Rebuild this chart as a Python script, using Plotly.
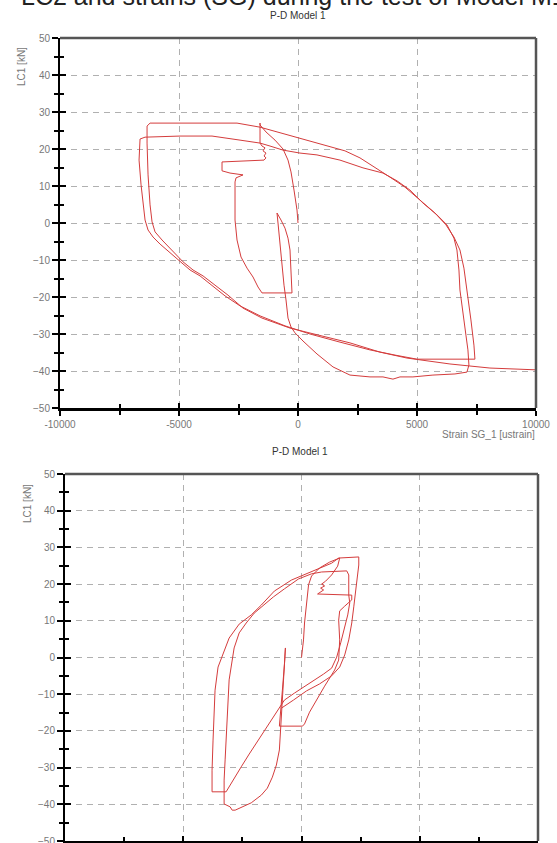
import plotly.graph_objects as go

# ---------------- data ----------------
top_strain = [0, -42, -168, -294, -420, -630, -966, -1344, -1596,
              -1596, -1596, -1512, -1386, -1470, -1344, -1428, -1344, -1428,
              -3192, -3192, -2856, -2310, -2604, -2646, -2646, -2562, -2394, -2142, -1890, -1680, -1512,
              -252, -294, -336, -420, -546, -714, -882,
              -840, -756, -672, -588, -504, -420, -294, -126, 210, 798, 1470, 2184, 3024, 3570, 3990,
              4284, 4830, 5670, 6594, 7098, 7182, 7140, 7056, 6930, 6804, 6762, 6678, 6552, 6258, 5838,
              5250, 4704, 4158, 3570, 2730, 1764, 798, 84, -630, -1176, -1596, -2436, -3612, -4956,
              -6426, -6636, -6678, -6594, -6510, -6426, -6300, -6090, -5796, -5376, -4956, -4536, -4116,
              -3612, -3066, -2436, -1596, -546, 504, 1764, 3024, 4074, 4998, 7434,
              7392, 7266, 7140, 6972, 6804, 6552, 6216, 5754, 5124, 4494, 3864, 3234, 2604, 1974, 924,
              84, -630, -1176, -1596, -2562, -4956, -6216, -6342, -6342, -6300, -6216, -6132, -6006,
              -5712, -5292, -4830, -4410, -3990, -3486, -2940, -2310, -1512, -336, 924, 2184, 3444,
              4578, 6384, 8064, 10038, 11004]
top_load = [0, 3.5, 8.9, 13.8, 17.0, 20.0, 22.4, 24.6, 26.5,
            27.0, 21.6, 20.8, 20.3, 19.5, 18.9, 18.1, 17.6, 17.0,
            16.5, 14.1, 13.5, 13.0, 12.2, 11.1, 0.8, -4.6, -9.2, -12.2, -14.6, -17.3, -18.9,
            -18.9, -12.7, -7.3, -4.1, -1.4, 0.8, 2.7,
            0, -5.9, -11.9, -16.8, -20.8, -25.7, -28.1, -29.7, -31.9, -35.4, -38.9, -41.1, -41.6, -41.6, -42.2,
            -41.6, -41.6, -41.1, -40.8, -40.3, -38.4, -34.3, -30.3, -23.5, -18.1, -12.7, -7.3, -4.1, -0.5, 2.2,
            5.4, 8.9, 11.4, 13.5, 14.9, 17.0, 18.4, 18.9, 19.7, 20.8, 21.6, 22.4, 23.5, 23.5,
            23.2, 22.7, 17.0, 10.3, 4.9, 0.8, -1.9, -3.8, -5.7, -8.1, -10.5, -12.7, -14.3,
            -16.8, -19.7, -22.4, -25.1, -27.8, -30.0, -32.2, -34.3, -35.7, -36.8, -36.8,
            -33.0, -26.2, -19.5, -12.2, -7.3, -3.8, -0.5, 2.7, 6.2, 9.7, 12.4, 14.9, 17.6, 19.5, 21.4,
            23.0, 24.1, 25.1, 25.9, 27.0, 27.0, 27.0, 26.2, 21.6, 13.0, 4.9, 0.3, -2.4,
            -4.6, -7.3, -10.5, -12.7, -14.3, -16.8, -19.5, -23.0, -25.7, -28.4, -30.5, -32.4, -34.9,
            -36.5, -38.1, -39.2, -39.7, -39.7]

bot_strain = [0, 85, 128, 212, 298, 425, 765, 1190, 1615,
              1530, 1275, 1020, 850, 978, 808, 935, 765, 680,
              2125, 2125, 1828, 1615, 1572, 1615, 1572, 1402, 978, 680, 340, 128, 42,
              -935, -892, -808, -722, -680,
              -722, -808, -850, -892, -935, -1062, -1232, -1445, -1700, -2125, -2465, -2805, -2932, -3018, -3272,
              -3272, -3230, -3188, -3145, -3102, -3060, -2975, -2848, -2635, -2338, -1998, -1615, -1190, -722,
              -128, 425, 850, 1912, 1998, 1998, 2040,
              1955, 1828, 1658, 1488, 1275, 935, 552, 128, -298, -722, -1062, -1445, -1828, -2210, -2550,
              -2848, -3188, -3782,
              -3782, -3740, -3698, -3655, -3528, -3315, -3060, -2635, -2125, -1700, -1148, -425, 212, 638,
              1275, 1572, 2422,
              2422, 2380, 2295, 2210, 2125, 1998, 1828, 1615, 1275, 765, 212, -340, -850]
bot_load = [0, 4.8, 9.4, 15.7, 19.8, 22.2, 24.4, 26.0, 27.1,
            24.9, 22.5, 20.8, 20.0, 19.5, 18.9, 18.4, 17.8, 17.3,
            17.0, 15.7, 14.0, 12.7, 10.2, 4.8, -0.7, -3.4, -7.8, -11.0, -14.9, -18.1, -18.7,
            -18.7, -14.3, -8.9, -2.0, 2.6,
            -2.9, -8.9, -14.3, -19.8, -25.2, -29.3, -32.6, -35.6, -37.5, -39.6, -40.7, -41.6, -41.6, -40.7, -39.9,
            -33.4, -27.9, -22.5, -17.0, -11.6, -6.1, -2.6, 2.6, 6.7, 9.4, 12.1, 14.3, 16.5, 18.7,
            21.4, 22.8, 23.3, 23.6, 22.5, 17.0, 14.9,
            11.6, 8.0, 4.0, 0.1, -2.9, -4.5, -6.1, -7.8, -9.7, -11.6, -14.9, -18.7, -22.5, -26.3, -29.8,
            -32.8, -36.6, -36.6,
            -30.7, -22.5, -14.3, -8.9, -2.6, 1.2, 5.3, 9.1, 11.6, 14.3, 18.1, 21.1, 22.8, 24.1,
            25.7, 27.1, 27.4,
            25.2, 22.5, 18.4, 13.8, 9.4, 4.8, 0.7, -2.6, -5.0, -7.2, -9.1, -11.6, -13.8]

x_ticks = [-10000, -5000, 0, 5000, 10000]
x_ticktext = ["-10000", "-5000", "0", "5000", "10000"]
y_ticks = [-50, -40, -30, -20, -10, 0, 10, 20, 30, 40, 50]

chart_title = "P-D Model 1"
y_title = "LC1 [kN]"
x_title = "Strain SG_1 [ustrain]"
page_heading = "LC2 and strains (SG) during the test of Model M1"

# ---------------- figure ----------------
W, H = 557, 843
RED = "#d43c3c"
FONT = "Liberation Sans, Arial, sans-serif"
TICKC = "#777777"

fig = go.Figure()
fig.add_trace(go.Scatter(x=top_strain, y=top_load, mode="lines",
                         line=dict(color=RED, width=1), xaxis="x", yaxis="y",
                         hoverinfo="skip", showlegend=False))
fig.add_trace(go.Scatter(x=bot_strain, y=bot_load, mode="lines",
                         line=dict(color=RED, width=1), xaxis="x2", yaxis="y2",
                         hoverinfo="skip", showlegend=False))
# invisible copies on overlay axes (used only for the inward half of crossing ticks)
fig.add_trace(go.Scatter(x=top_strain, y=top_load, mode="lines", opacity=0,
                         xaxis="x3", yaxis="y3", hoverinfo="skip", showlegend=False))
fig.add_trace(go.Scatter(x=bot_strain, y=bot_load, mode="lines", opacity=0,
                         xaxis="x4", yaxis="y4", hoverinfo="skip", showlegend=False))

top_xd = [60 / W, 536 / W]
top_yd = [1 - 408 / H, 1 - 38 / H]
bot_xd = [65 / W, 538 / W]
bot_yd = [1 - 841 / H, 1 - 474 / H]


def xax(domain, anchor, show_labels=True, ticks="outside", grid=True, line=True, overlay=None):
    d = dict(range=[-10000, 10000], tickmode="array", tickvals=x_ticks, ticktext=x_ticktext,
             ticks=ticks, ticklen=5, tickwidth=1.5, tickcolor="black",
             minor=dict(dtick=2500, tick0=0, ticks=ticks, ticklen=4, tickwidth=1.5, tickcolor="black",
                        showgrid=False),
             showticklabels=show_labels, tickfont=dict(family=FONT, size=10, color=TICKC),
             ticklabeloverflow="allow",
             showgrid=grid, gridcolor="#b0b0b0", gridwidth=1, griddash="6px,5px",
             zeroline=False, showline=line, linecolor="black", linewidth=2.5,
             anchor=anchor, automargin=False, fixedrange=True)
    if overlay:
        d["overlaying"] = overlay
    else:
        d["domain"] = domain
    return d


def yax(domain, anchor, show_labels=True, ticks="outside", grid=True, line=True, overlay=None):
    d = dict(range=[-50, 50], tickmode="array", tickvals=y_ticks,
             ticks=ticks, ticklen=6, tickwidth=1.5, tickcolor="black",
             minor=dict(dtick=5, tick0=0, ticks=ticks, ticklen=4, tickwidth=1.5, tickcolor="black",
                        showgrid=False),
             showticklabels=show_labels, tickfont=dict(family=FONT, size=10, color=TICKC),
             ticklabeloverflow="allow",
             showgrid=grid, gridcolor="#b0b0b0", gridwidth=1, griddash="6px,5px",
             zeroline=False, showline=line, linecolor="black", linewidth=2,
             anchor=anchor, automargin=False, fixedrange=True)
    if overlay:
        d["overlaying"] = overlay
    else:
        d["domain"] = domain
    return d


fig.update_layout(
    width=W, height=H, margin=dict(l=0, r=0, t=0, b=0),
    paper_bgcolor="white", plot_bgcolor="white", showlegend=False,
    xaxis=xax(top_xd, "y"), yaxis=yax(top_yd, "x"),
    xaxis2=xax(bot_xd, "y2"), yaxis2=yax(bot_yd, "x2"),
    xaxis3=xax(None, "y3", show_labels=False, ticks="inside", grid=False, line=False, overlay="x"),
    yaxis3=yax(None, "x3", show_labels=False, ticks="inside", grid=False, line=False, overlay="y"),
    xaxis4=xax(None, "y4", show_labels=False, ticks="inside", grid=False, line=False, overlay="x2"),
    yaxis4=yax(None, "x4", show_labels=False, ticks="inside", grid=False, line=False, overlay="y2"),
)

# dark grey frame on top and right sides
for xr, yr in (("x", "y"), ("x2", "y2")):
    fig.add_shape(type="line", xref=f"{xr} domain", yref=f"{yr} domain", x0=0, x1=1, y0=1, y1=1,
                  line=dict(color="#555555", width=2.5))
    fig.add_shape(type="line", xref=f"{xr} domain", yref=f"{yr} domain", x0=1, x1=1, y0=0, y1=1,
                  line=dict(color="#555555", width=2.5))

ann = []
ann.append(dict(text=page_heading, x=19 / W, y=1 - 12 / H, xref="paper", yref="paper",
                xanchor="left", yanchor="bottom", showarrow=False,
                font=dict(family=FONT, size=25, color="#222222")))
ann.append(dict(text=chart_title, x=298 / W, y=1 - 15 / H, xref="paper", yref="paper",
                xanchor="center", yanchor="middle", showarrow=False,
                font=dict(family=FONT, size=10, color="#333333")))
ann.append(dict(text=chart_title, x=300 / W, y=1 - 451 / H, xref="paper", yref="paper",
                xanchor="center", yanchor="middle", showarrow=False,
                font=dict(family=FONT, size=10, color="#333333")))
ann.append(dict(text=y_title, x=22 / W, y=1 - 67 / H, xref="paper", yref="paper",
                xanchor="center", yanchor="middle", textangle=-90, showarrow=False,
                font=dict(family=FONT, size=10, color=TICKC)))
ann.append(dict(text=y_title, x=27 / W, y=1 - 503 / H, xref="paper", yref="paper",
                xanchor="center", yanchor="middle", textangle=-90, showarrow=False,
                font=dict(family=FONT, size=10, color=TICKC)))
ann.append(dict(text=x_title, x=537 / W, y=1 - 434 / H, xref="paper", yref="paper",
                xanchor="right", yanchor="middle", showarrow=False,
                font=dict(family=FONT, size=10, color=TICKC)))
fig.update_layout(annotations=ann)

fig.write_html("out.html")
